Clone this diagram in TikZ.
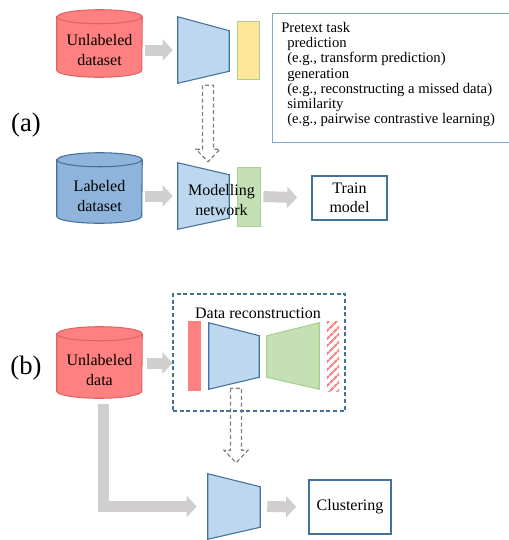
\documentclass[tikz,border=0pt]{standalone}
\usepackage{fontspec}
\setmainfont{Liberation Serif}
\usetikzlibrary{arrows.meta,calc,patterns.meta}

\definecolor{redfill}{HTML}{FF8080}
\definecolor{redline}{HTML}{E06666}
\definecolor{bluefill}{HTML}{BDD7EE}
\definecolor{blueline}{HTML}{41719C}
\definecolor{cylblue}{HTML}{8FB4DC}
\definecolor{yelfill}{HTML}{FFE699}
\definecolor{grnfill}{HTML}{C5E0B4}
\definecolor{grnline}{HTML}{A9D18E}
\definecolor{arrowgray}{HTML}{D0CECE}
\definecolor{dashgray}{HTML}{7F7F7F}
\definecolor{boxline}{HTML}{7EA6D3}

\tikzset{
  db/.style={minimum width=63.75pt, inner sep=0pt},
  dbtext/.style={align=center, inner sep=0pt, font=\fontsize{12}{15}\selectfont},
  trap/.style={minimum width=38.25pt, minimum height=49.5pt, inner sep=0pt},
  encoder/.style={fill=bluefill, draw=blueline, line width=0.8pt},
  decoder/.style={fill=grnfill, draw=grnline, line width=0.8pt},
  bar/.style={inner sep=0pt, draw=grnline, line width=0.6pt},
  resultbox/.style={draw=blueline, line width=1.3pt, align=center, inner sep=0pt,
    font=\fontsize{12}{14.5}\selectfont},
  taskbox/.style={draw=boxline, line width=0.8pt, minimum width=182pt, minimum height=96.75pt},
  tag/.style={font=\fontsize{20}{24}\selectfont},
  bigarrow/.style={draw=arrowgray, line width=8.25pt, line join=miter,
    -{Triangle[width=15.75pt,length=7.5pt]}},
  hollow/.style={draw=dashgray, line width=0.9pt, dash pattern=on 3pt off 2pt}
}

% cylinder drawn on the frame of node #1
\newcommand{\cyl}[3]{%
  \draw[fill=#2, draw=#3, line width=0.8pt] ($(#1.north west)+(0,7)$) -- ($(#1.south west)+(0,-7)$)
    arc[start angle=180, end angle=0, x radius=42.5, y radius=7] -- ($(#1.north east)+(0,7)$)
    arc[start angle=0, end angle=-180, x radius=42.5, y radius=7] -- cycle;
  \draw[draw=#3, line width=0.8pt] ($(#1.north west)+(0,7)$)
    arc[start angle=180, end angle=0, x radius=42.5, y radius=7];}

% hollow dashed arrow, from #1 down to its tip #2
\newcommand{\hollowdown}[2]{%
  \draw[hollow] ($(#1)+(-5.5,0)$) -- ($(#1 |- #2)+(-5.5,-12.5)$) -- ($(#1 |- #2)+(-12,-12.5)$)
    -- (#2) -- ($(#1 |- #2)+(12,-12.5)$) -- ($(#1 |- #2)+(5.5,-12.5)$) -- ($(#1)+(5.5,0)$) -- cycle;}

\begin{document}
\begin{tikzpicture}[x=0.75pt, y=-0.75pt]
  \useasboundingbox (0,0) rectangle (509,540);

  % (a) pretext task, then the labeled data
  \node[tag] (taga) at (26,125) {(a)};
  \node[db, minimum height=50.25pt] (ulab) at (99.5,43.5) {};
  \cyl{ulab}{redfill}{redline}
  \node[dbtext] (ulabtxt) at (99.5,50) {Unlabeled\\dataset};
  \node[trap] (enc1) at (203.5,50) {};
  \draw[encoder] (enc1.north west) -- ($(enc1.north east)+(0,14)$) -- ($(enc1.south east)+(0,-12)$) -- (enc1.south west) -- cycle;
  \node[bar, fill=yelfill, minimum width=16.5pt, minimum height=43.5pt] (head1) at (248,50) {};
  \draw[bigarrow, shorten <=2.25pt, shorten >=3.75pt] (ulab.east |- ulabtxt) -- (enc1.west |- ulabtxt);

  \node[taskbox, anchor=north west] (task) at (272,13) {};
  \node[anchor=north west, align=left, inner sep=0pt, font=\fontsize{11}{11.4}\selectfont] (tasktxt)
    at ($(task.north west)+(9,9)$)
    {Pretext task\\
     \hspace*{4.5pt}prediction\\
     \hspace*{4.5pt}(e.g., transform prediction)\\
     \hspace*{4.5pt}generation\\
     \hspace*{4.5pt}(e.g., reconstructing a missed data)\\
     \hspace*{4.5pt}similarity\\
     \hspace*{4.5pt}(e.g., pairwise contrastive learning)};

  \node[db, minimum height=52.5pt] (lab) at (99.5,188) {};
  \cyl{lab}{cylblue}{blueline}
  \node[dbtext] (labtxt) at (99.5,196) {Labeled\\dataset};
  \node[trap] (net) at (203.5,196) {};
  \draw[encoder] (net.north west) -- ($(net.north east)+(0,12)$) -- ($(net.south east)+(0,-11)$) -- (net.south west) -- cycle;
  \node[bar, fill=grnfill, minimum width=17.25pt, minimum height=44.25pt] (head2) at (248.5,196.5) {};
  \node[align=center, inner sep=0pt, font=\fontsize{12}{15}\selectfont] (nettxt) at (221.5,200) {Modelling\\network};
  \node[resultbox, minimum width=56.25pt, minimum height=33pt] (train) at (349.5,198) {Train\\model};
  \draw[bigarrow, shorten <=2.25pt, shorten >=3.75pt] (lab.east |- labtxt) -- (net.west |- labtxt);
  \draw[bigarrow, shorten <=2.25pt, shorten >=10.5pt] (head2.east) -- (train.west);

  \coordinate (h1top) at ($(enc1.south)+(4.5,2)$);
  \coordinate (h1tip) at ($(net.north)+(4.5,-1)$);
  \hollowdown{h1top}{h1tip}

  % (b) reconstruction, then clustering
  \node[tag] (tagb) at (26,368) {(b)};
  \node[db, minimum height=53.25pt] (data) at (99.5,362.5) {};
  \cyl{data}{redfill}{redline}
  \node[dbtext] (datatxt) at (99.5,370) {Unlabeled\\data};
  \node[draw=blueline, line width=0.8pt, dash pattern=on 3pt off 2pt, minimum width=129pt, minimum height=87.75pt] (rec) at (259,352.5) {};
  \node[font=\fontsize{12}{14}\selectfont, inner sep=0pt] (rectxt) at (258,313) {Data reconstruction};
  \node[inner sep=0pt, fill=redfill, minimum width=9.75pt, minimum height=52.5pt] (input) at (194.5,356) {};
  \node[trap, minimum width=37.5pt] (enc2) at (234,356) {};
  \draw[encoder] (enc2.north west) -- ($(enc2.north east)+(0,13)$) -- ($(enc2.south east)+(0,-12)$) -- (enc2.south west) -- cycle;
  \node[trap, minimum width=39pt] (dec) at (293,356) {};
  \draw[decoder] ($(dec.north west)+(0,13)$) -- (dec.north east) -- (dec.south east) -- ($(dec.south west)+(0,-12)$) -- cycle;
  \node[inner sep=0pt, pattern={Lines[angle=45,distance=4pt,line width=1.6pt]}, pattern color=redfill,
    minimum width=9pt, minimum height=52.5pt] (output) at (333,356) {};
  \coordinate (recin) at ($(rec.west)+(0,10.5)$);
  \draw[bigarrow, shorten <=3.75pt] (data.east |- recin) -- (recin);

  \node[trap, minimum width=39pt, minimum height=48.75pt] (enc3) at (234,506.5) {};
  \draw[encoder] (enc3.north west) -- ($(enc3.north east)+(0,13)$) -- ($(enc3.south east)+(0,-12)$) -- (enc3.south west) -- cycle;
  \node[resultbox, minimum width=61.5pt, minimum height=40.5pt] (clust) at (350,507) {Clustering};
  \draw[bigarrow, shorten <=5.25pt, shorten >=9pt] (enc3.east) -- (clust.west);
  \draw[bigarrow, shorten >=8.25pt] ($(data.south)+(3.5,6)$) |- (enc3.west);

  \coordinate (h2top) at ($(enc2.south)+(2,-1)$);
  \coordinate (h2tip) at ($(enc3.north)+(2,-11)$);
  \hollowdown{h2top}{h2tip}
\end{tikzpicture}
\end{document}
